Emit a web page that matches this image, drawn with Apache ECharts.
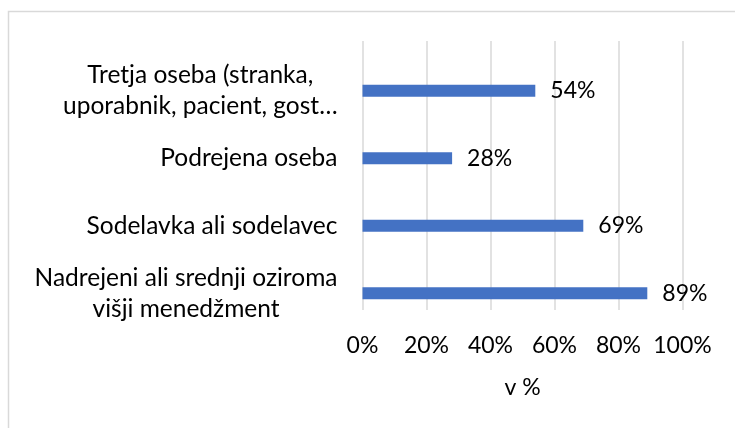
<!DOCTYPE html>
<html>
<head>
<meta charset="utf-8">
<script src="https://cdn.jsdelivr.net/npm/echarts@6/dist/echarts.min.js"></script>
<style>
  html, body { margin: 0; padding: 0; background: #fff; }
  #chart { width: 735px; height: 428px; }
</style>
</head>
<body>
<div id="chart"></div>
<script>
  // kategorije od spodaj navzgor
  const categories = [
    'Nadrejeni ali srednji oziroma\nvišji menedžment',
    'Sodelavka ali sodelavec',
    'Podrejena oseba',
    'Tretja oseba (stranka,\nuporabnik, pacient, gost…'
  ];
  const shares = [0.89, 0.69, 0.28, 0.54];
  const xTicks = [0, 0.2, 0.4, 0.6, 0.8, 1];
  const axisName = 'v %';

  const font = 'Lato, "Open Sans", sans-serif';
  const pct = v => Math.round(v * 100) + '%';

  const chart = echarts.init(document.getElementById('chart'));
  const option = {
    animation: false,
    graphic: [{
      type: 'rect',
      shape: { x: 8.5, y: 11.5, width: 800, height: 500 },
      style: { fill: 'none', stroke: '#d9d9d9', lineWidth: 1.5 },
      silent: true
    }],
    grid: [
      // mreža in os x
      { left: 362.5, width: 320, top: 41, height: 269 },
      // stolpci
      { left: 362.5, width: 320, top: 57, height: 270 }
    ],
    xAxis: [
      {
        gridIndex: 0,
        type: 'value',
        min: xTicks[0],
        max: xTicks[xTicks.length - 1],
        interval: 0.2,
        axisLine: { show: false },
        axisTick: { show: false },
        splitLine: { lineStyle: { color: '#d9d9d9', width: 1.5 } },
        axisLabel: {
          margin: 24,
          color: '#000',
          fontFamily: font,
          fontSize: 23,
          formatter: pct
        },
        name: axisName,
        nameLocation: 'middle',
        nameGap: 66,
        nameTextStyle: { color: '#000', fontFamily: font, fontSize: 23 }
      },
      {
        gridIndex: 1,
        type: 'value',
        min: 0,
        max: 1,
        show: false
      }
    ],
    yAxis: [
      {
        gridIndex: 0,
        type: 'category',
        data: categories,
        show: false
      },
      {
        gridIndex: 1,
        type: 'category',
        data: categories,
        axisLine: { show: false },
        axisTick: { show: false },
        axisLabel: {
          margin: 25,
          color: '#000',
          fontFamily: font,
          fontSize: 24.5,
          lineHeight: 31,
          align: 'right',
          // vrstice večvrstičnih oznak so sredinsko poravnane
          formatter: v => v.split('\n').map(s => '{c|' + s + '}').join('\n'),
          rich: {
            c: {
              align: 'center',
              color: '#000',
              fontFamily: font,
              fontSize: 24.5,
              lineHeight: 31
            }
          }
        }
      }
    ],
    series: [{
      type: 'bar',
      xAxisIndex: 1,
      yAxisIndex: 1,
      data: shares,
      barWidth: 12,
      itemStyle: { color: '#4472c4' },
      label: {
        show: true,
        position: 'right',
        distance: 15,
        color: '#000',
        fontFamily: font,
        fontSize: 23,
        formatter: p => pct(p.value)
      }
    }]
  };
  chart.setOption(option);
  window.addEventListener('resize', function () {
    chart.resize();
  });
</script>
</body>
</html>
